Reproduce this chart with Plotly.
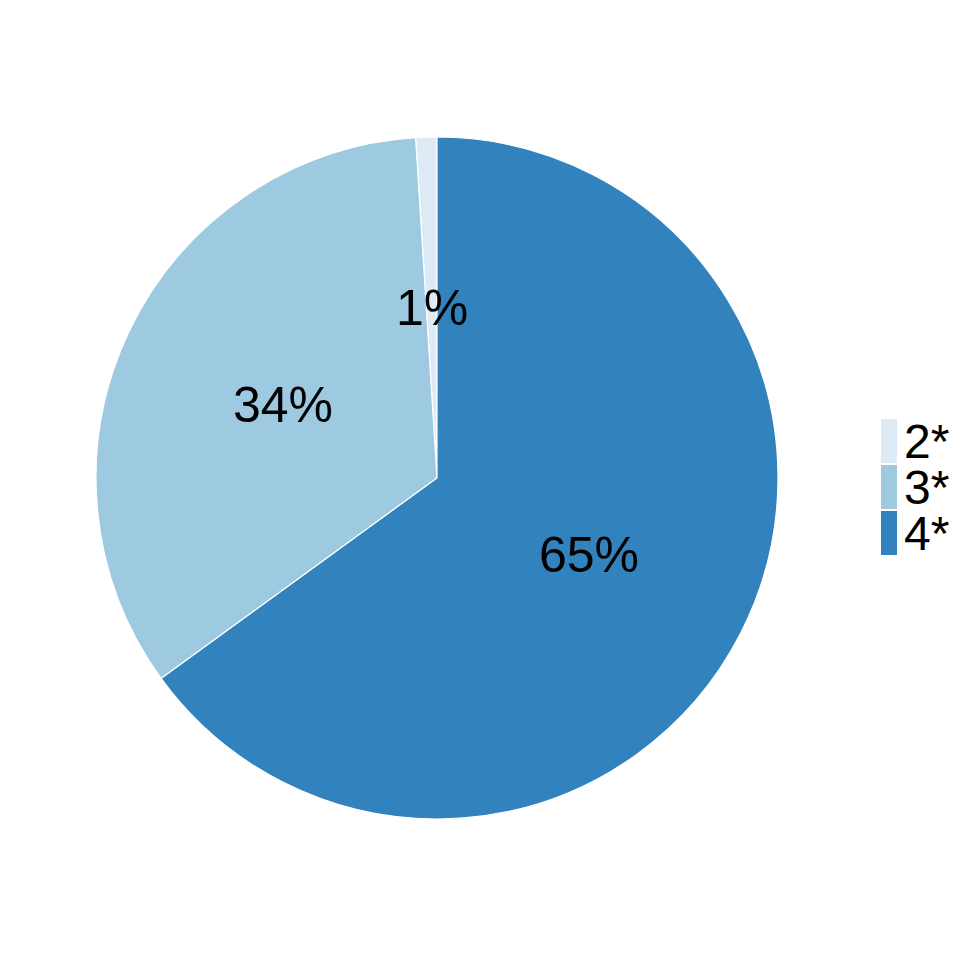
import numpy as np
import plotly.graph_objects as go

# data
labels = ['2*', '3*', '4*']
values = [1, 34, 65]
colors = ['#DEEBF7', '#9ECAE1', '#3182BD']

W, H = 960, 960
OFF = 8  # page body margin of the html export
# pie box in pixels (left, right, top, bottom) as seen on the page
px0, px1, py0, py1 = 96 - OFF, 778 - OFF, 137 - OFF, 819 - OFF
FONT = 'Liberation Sans, Arial, sans-serif'

total = sum(values)

fig = go.Figure()
# counterclockwise pies in plotly end the first slice at the rotation angle,
# so turn back by the first slice to start it at 12 o'clock
fig.add_trace(go.Pie(
    labels=labels, values=values, sort=False,
    direction='counterclockwise', rotation=-values[0] / total * 360,
    marker=dict(colors=colors, line=dict(color='white', width=1.2)),
    textinfo='none', hoverinfo='label+percent',
    domain=dict(x=[px0 / W, px1 / W], y=[1 - py1 / H, 1 - py0 / H]),
    showlegend=False,
))

# percentage labels at half radius, mid-angle of each slice
cx, cy = (px0 + px1) / 2, (py0 + py1) / 2
R = (px1 - px0) / 2
cum = 0
for lab, v in zip(labels, values):
    mid = (cum + v / 2) / total * 2 * np.pi
    cum += v
    xp = cx - 0.5 * R * np.sin(mid)
    yp = cy - 0.5 * R * np.cos(mid)
    fig.add_annotation(
        x=xp / W, y=1 - yp / H, xref='paper', yref='paper',
        xanchor='center', yanchor='middle',
        text=f'{round(v / total * 100)}%', showarrow=False,
        font=dict(size=50, color='black', family=FONT),
    )

# ggplot-style legend: tall keys stacked without gaps
kx0, kx1, ky0, kh = 881 - OFF, 897 - OFF, 418 - OFF, 46
for i, (lab, col) in enumerate(zip(labels, colors)):
    top = ky0 + i * kh
    fig.add_shape(
        type='rect', xref='paper', yref='paper',
        x0=kx0 / W, x1=kx1 / W, y0=1 - (top + kh - 1) / H, y1=1 - (top + 1) / H,
        fillcolor=col, line=dict(width=0),
    )
    fig.add_annotation(
        x=(kx1 + 5) / W, y=1 - (top + kh / 2) / H, xref='paper', yref='paper',
        text=lab, showarrow=False, xanchor='left', yanchor='middle',
        height=kh, valign='middle',
        font=dict(size=48, color='black', family=FONT),
    )

fig.update_layout(
    width=W, height=H,
    margin=dict(l=0, r=0, t=0, b=0),
    paper_bgcolor='white', plot_bgcolor='white',
)

fig.write_html("out.html")
